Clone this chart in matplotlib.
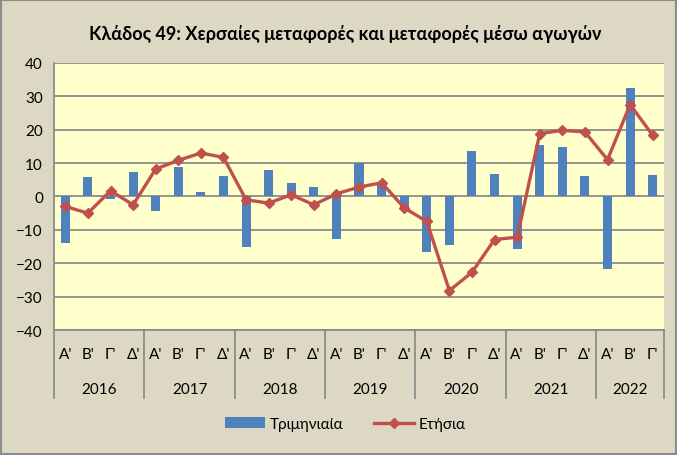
import matplotlib
matplotlib.use("Agg")
import matplotlib.pyplot as plt
from matplotlib.patches import Rectangle

plt.rcParams["font.family"] = ["Lato", "DejaVu Sans"]

years = ["2016", "2017", "2018", "2019", "2020", "2021", "2022"]
quarters = ["Α'", "Β'", "Γ'", "Δ'"]
n_quarters = [4, 4, 4, 4, 4, 4, 3]

quarterly = [-13.8, 5.8, -0.7, 7.3,
             -4.3, 8.7, 1.2, 6.2,
             -15.2, 7.8, 4.0, 2.8,
             -12.7, 10.1, 4.0, -3.4,
             -16.5, -14.5, 13.6, 6.8,
             -15.7, 15.5, 14.9, 6.2,
             -21.7, 32.6, 6.5]
annual = [-3.0, -5.0, 1.7, -2.5,
          8.2, 10.8, 13.0, 11.7,
          -1.0, -2.0, 0.5, -2.5,
          0.8, 2.8, 4.1, -3.4,
          -7.5, -28.2, -22.7, -12.9,
          -12.2, 18.8, 19.8, 19.3,
          11.0, 27.5, 18.3]

BG = "#ddd8c4"
PLOT_BG = "#ffffcc"
BLUE = "#4f81bd"
RED = "#c0504d"
GRID = "#8c8c8c"

fig = plt.figure(figsize=(6.77, 4.56), dpi=100, facecolor=BG)
ax = fig.add_axes([0.0798, 0.274, 0.901, 0.586])
ax.set_facecolor(PLOT_BG)

x = list(range(len(quarterly)))
bars = ax.bar(x, quarterly, width=0.4, color=BLUE, zorder=2, label="Τριμηνιαία")
line, = ax.plot(x, annual, color=RED, linewidth=2.4, marker="D", markersize=5.5,
                zorder=3, label="Ετήσια")

ax.set_xlim(-0.5, len(x) - 0.5)
ax.set_ylim(-40, 40)
ax.set_yticks(range(-40, 41, 10))
ax.yaxis.grid(True, color=GRID, linewidth=1.3, zorder=1)
ax.tick_params(axis="y", length=0, labelsize=11, pad=8)
ax.tick_params(axis="x", length=0, labelbottom=False)
for s in ["top", "right"]:
    ax.spines[s].set_visible(False)
ax.spines["left"].set_color(GRID)
ax.spines["bottom"].set_color(GRID)
ax.spines["left"].set_linewidth(1.3)
ax.spines["bottom"].set_linewidth(1.3)

# two-level category axis
pos = 0
bounds = [-0.5]
for yr, nq in zip(years, n_quarters):
    for q in range(nq):
        ax.text(pos + q, -0.09, quarters[q], transform=ax.get_xaxis_transform(),
                ha="center", va="center", fontsize=11)
    ax.text(pos + (nq - 1) / 2, -0.22, yr, transform=ax.get_xaxis_transform(),
            ha="center", va="center", fontsize=11)
    pos += nq
    bounds.append(pos - 0.5)
for b in bounds:
    ax.plot([b, b], [0, -0.255], transform=ax.get_xaxis_transform(),
            color=GRID, linewidth=1.3, clip_on=False)

fig.suptitle("Κλάδος 49: Χερσαίες μεταφορές και μεταφορές μέσω αγωγών",
             x=0.51, y=0.945, fontsize=13, fontweight="bold")

fig.legend([bars, line], ["Τριμηνιαία", "Ετήσια"], loc="center",
           bbox_to_anchor=(0.51, 0.068), ncol=2, frameon=False, fontsize=11,
           handlelength=2.6, columnspacing=2.0, handletextpad=0.3)

fig.patches.append(Rectangle((0.001, 0.003), 0.997, 0.995, transform=fig.transFigure,
                             fill=False, edgecolor="#8c8c8c", linewidth=1.5))

fig.savefig("out.png", dpi=100, facecolor=fig.get_facecolor())
